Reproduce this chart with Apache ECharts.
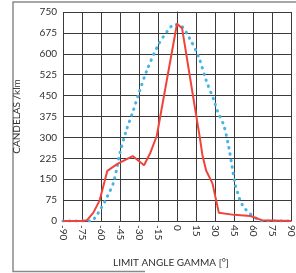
<!DOCTYPE html>
<html>
<head>
<meta charset="utf-8">
<script src="https://cdn.jsdelivr.net/npm/echarts@6/dist/echarts.min.js"></script>
<style>
  html, body { margin: 0; padding: 0; background: #fff; }
  #chart { width: 296px; height: 273px; }
</style>
</head>
<body>
<div id="chart"></div>
<script>
// gamma angle (deg) -> candelas/klm
var redAngles = [-90, -75, -71, -66, -61, -55, -47, -35, -26, -21, -16, 0, 4, 14, 18, 20, 23, 28, 33, 45, 58, 67, 90]
var redValues = [0, 0, 3, 30, 75, 180, 205, 233, 200, 245, 305, 708, 692, 411, 300, 238, 181, 135, 30, 22, 18, 3, 0]

var blueAngles = [-90, -67, -65, -60, -55, -50, -45, -40, -35, -30, -24, -15, -7.5, -2, 3, 10, 17, 23, 29, 32, 37, 41, 46, 48, 50, 53, 58, 63, 67, 90]
var blueValues = [0, 0, 10, 45, 88, 140, 245, 325, 390, 460, 538, 630, 682, 705, 702, 655, 590, 505, 435, 394, 342, 262, 129, 100, 72, 48, 25, 8, 0, 0]

var xTicks = [-90, -75, -60, -45, -30, -15, 0, 15, 30, 45, 60, 75, 90]
var yTicks = [0, 75, 150, 225, 300, 375, 450, 525, 600, 675, 750]

function pairs(xs, ys) {
  return xs.map(function (x, i) { return [x, ys[i]] })
}

var chart = echarts.init(document.getElementById('chart'))
var gridColor = '#3a3a3a'
var textColor = '#2e2e2e'
var font = 'Lato, "Open Sans", sans-serif'

chart.setOption({
  backgroundColor: '#fff',
  animation: false,
  grid: {
    left: 63,
    top: 12,
    width: 236,
    height: 217
  },
  xAxis: {
    type: 'value',
    min: xTicks[0],
    max: xTicks[xTicks.length - 1],
    interval: 15,
    name: 'LIMIT ANGLE GAMMA [°]',
    nameLocation: 'middle',
    nameGap: 37,
    nameTextStyle: {
      color: textColor,
      fontFamily: font,
      fontSize: 10,
      padding: [0, 12, 0, 0]
    },
    axisLine: { lineStyle: { color: gridColor, width: 1 } },
    axisTick: { show: false },
    axisLabel: {
      rotate: -90,
      margin: 4,
      color: textColor,
      fontFamily: font,
      fontSize: 10,
      formatter: function (v) { return String(v) }
    },
    splitLine: { lineStyle: { color: gridColor, width: 1 } }
  },
  yAxis: {
    type: 'value',
    min: yTicks[0],
    max: yTicks[yTicks.length - 1],
    interval: 75,
    name: 'CANDELAS /klm',
    nameLocation: 'middle',
    nameGap: 41,
    nameTextStyle: {
      color: textColor,
      fontFamily: font,
      fontSize: 10
    },
    axisLine: { show: true, lineStyle: { color: gridColor, width: 1 } },
    axisTick: { show: true, length: 3, lineStyle: { color: gridColor } },
    axisLabel: {
      margin: 6,
      color: textColor,
      fontFamily: font,
      fontSize: 10
    },
    splitLine: { lineStyle: { color: gridColor, width: 1 } }
  },
  graphic: [{
    type: 'polyline',
    shape: { points: [[145, 271.5], [13, 271.5], [13, 2], [296, 2]] },
    style: { stroke: '#8a8a8a', lineWidth: 1.5, fill: null },
    silent: true
  }],
  series: [{
    name: 'blue',
    type: 'line',
    data: pairs(blueAngles, blueValues),
    showSymbol: false,
    smooth: 0.3,
    lineStyle: {
      color: '#46b4e6',
      width: 3,
      type: [0.5, 6],
      cap: 'round'
    },
    z: 3
  }, {
    name: 'red',
    type: 'line',
    data: pairs(redAngles, redValues),
    showSymbol: false,
    lineStyle: { color: '#f0443a', width: 2 },
    z: 4
  }]
})
</script>
</body>
</html>
